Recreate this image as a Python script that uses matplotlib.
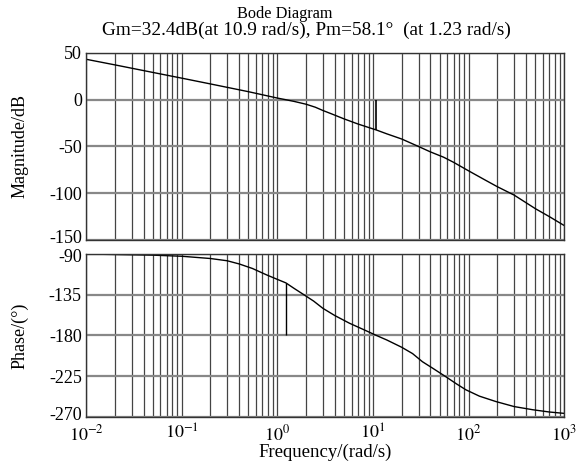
import numpy as np
import matplotlib.pyplot as plt
from matplotlib.transforms import ScaledTranslation

plt.rcParams['font.family'] = ['Liberation Serif', 'DejaVu Serif']
plt.rcParams['mathtext.fontset'] = 'stix'
plt.rcParams['axes.unicode_minus'] = False

# open-loop frequency response read at selected frequencies
w_mag = [0.01, 0.02, 0.05, 0.1, 0.2, 0.5, 1.0, 1.23, 1.5, 2.0, 2.5, 3.0, 4.0,
         5.0, 7.0, 10.9, 14, 20, 30, 40, 55, 70, 100, 150, 200, 300, 500,
         700, 1000]
mag = [43.3, 37.3, 29.2, 23.1, 16.9, 8.6, 1.8, 0.0, -1.8, -4.8, -8.0, -11.5,
       -16.5, -20.5, -26.0, -32.4, -36.5, -42.0, -50.0, -55.8, -61.5, -67.0,
       -76.0, -86.0, -93.0, -102.0, -116.5, -125.0, -134.5]

w_ph = [0.01, 0.023, 0.05, 0.1, 0.2, 0.3, 0.4, 0.55, 0.77, 1.0, 1.23, 1.5,
        1.9, 2.4, 3.0, 4.0, 5.7, 8.0, 10.9, 14, 20, 26, 33, 42, 58, 75, 94,
        130, 194, 300, 470, 700, 1000]
phase = [-90.0, -90.7, -91.3, -92.5, -95.0, -97.5, -101.0, -106.0, -113.0,
         -118.0, -121.9, -128.0, -135.0, -142.0, -150.0, -158.0, -166.5,
         -173.5, -180.0, -185.0, -193.0, -200.0, -209.0, -216.0, -225.6,
         -233.5, -240.0, -247.0, -253.0, -258.5, -262.0, -264.5, -266.0]

Gm, wcg = 32.4, 10.9
Pm, wcp = 58.1, 1.23

xticks = [1e-2, 1e-1, 1e0, 1e1, 1e2, 1e3]
xticklabels = ['$10^{-2}$', '$10^{-1}$', '$10^{0}$', '$10^{1}$', '$10^{2}$', '$10^{3}$']
mag_ticks = [50, 0, -50, -100, -150]
ph_ticks = [-90, -135, -180, -225, -270]

fig = plt.figure(figsize=(5.81, 4.68), dpi=100)
ax1 = fig.add_axes([0.148, 0.4872, 0.823, 0.3996])
ax2 = fig.add_axes([0.148, 0.1090, 0.823, 0.3483])

for ax in (ax1, ax2):
    ax.set_xscale('log')
    ax.set_xlim(1e-2, 1e3)
    ax.grid(True, which='both', axis='x', color='#444444', lw=0.9)
    ax.grid(True, which='major', axis='y', color='#888888', lw=1.6)
    ax.tick_params(which='both', direction='in', length=0, labelsize=13, pad=3)
    for s in ax.spines.values():
        s.set_color('#333333')
        s.set_linewidth(1.0)
    ax.set_xticks(xticks)

ax1.plot(w_mag, mag, color='black', lw=1.0)
ax1.set_ylim(-150, 50)
ax1.set_yticks(mag_ticks)
ax1.set_xticklabels([])
ax1.vlines(wcg, -Gm, 0, color='black', lw=1.2)
ax1.set_ylabel('Magnitude/dB', fontsize=13)

ax2.plot(w_ph, phase, color='black', lw=1.0)
ax2.set_ylim(-270, -90)
ax2.set_yticks(ph_ticks)
ax2.set_xticklabels(xticklabels)
ax2.tick_params(axis='x', pad=5)
ax2.vlines(wcp, -180, -180 + Pm, color='black', lw=1.0)
ax2.set_ylabel('Phase/(°)', fontsize=13)
ax2.set_xlabel('Frequency/(rad/s)', fontsize=13.5, labelpad=0)

ax1.yaxis.set_label_coords(-0.121, 0.5)
ax2.yaxis.set_label_coords(-0.121, 0.5)

# keep the end labels of the two panels apart
def nudge(label, dy):
    label.set_transform(label.get_transform() + ScaledTranslation(0, dy / 100, fig.dpi_scale_trans))

nudge(ax1.get_yticklabels()[-1], 3)
nudge(ax2.get_yticklabels()[0], -2)
nudge(ax2.get_yticklabels()[-1], 3)

fig.text(0.49, 0.970, 'Bode Diagram', ha='center', va='center', fontsize=11.7)
fig.text(0.528, 0.936, 'Gm=%.1fdB(at %.1f rad/s), Pm=%.1f°  (at %.2f rad/s)' % (Gm, wcg, Pm, wcp),
         ha='center', va='center', fontsize=13.9)

fig.savefig('out.png', dpi=100)
